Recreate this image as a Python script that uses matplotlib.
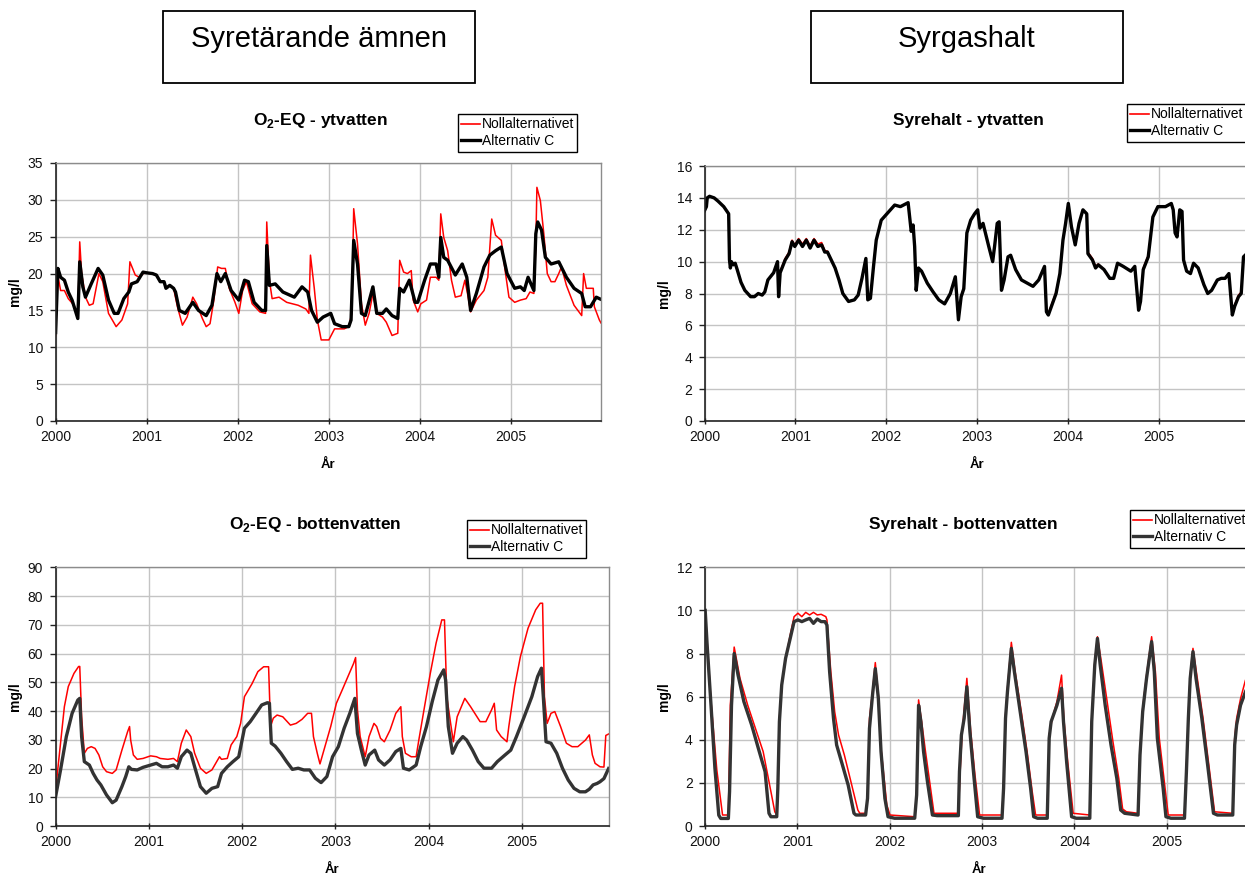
import matplotlib
matplotlib.use("Agg")
import matplotlib.pyplot as plt
from matplotlib.patches import Rectangle
from matplotlib.lines import Line2D

plt.rcParams['font.family'] = ['Liberation Sans', 'DejaVu Sans']
plt.rcParams['mathtext.fontset'] = 'custom'
plt.rcParams['mathtext.rm'] = 'Liberation Sans'
plt.rcParams['mathtext.bf'] = 'Liberation Sans:bold'

W, H = 1245, 875
START_YEAR = 2000
year_ticks = [0, 1, 2, 3, 4, 5]
year_labels = ['2000', '2001', '2002', '2003', '2004', '2005']
series_names = ['Nollalternativet', 'Alternativ C']

# ---- O2-EQ, surface water (years since 2000, mg/l) ----
o2eq_yt_noll_t = [0.000, 0.021, 0.055, 0.097, 0.139, 0.202, 0.244, 0.265, 0.286, 0.328, 0.370, 0.412,
                  0.476, 0.518, 0.581, 0.665, 0.728, 0.791, 0.816, 0.875, 0.918, 0.960, 1.002, 1.065,
                  1.107, 1.149, 1.191, 1.212, 1.254, 1.296, 1.338, 1.393, 1.444, 1.507, 1.549, 1.612,
                  1.654, 1.696, 1.738, 1.780, 1.822, 1.864, 1.907, 1.970, 2.012, 2.054, 2.096, 2.159,
                  2.243, 2.306, 2.319, 2.348, 2.378, 2.454, 2.538, 2.664, 2.748, 2.782, 2.799, 2.841,
                  2.875, 2.917, 3.001, 3.064, 3.169, 3.220, 3.253, 3.274, 3.316, 3.359, 3.401, 3.443,
                  3.485, 3.527, 3.590, 3.632, 3.695, 3.758, 3.779, 3.822, 3.864, 3.906, 3.927, 3.977,
                  4.011, 4.074, 4.116, 4.179, 4.209, 4.230, 4.263, 4.306, 4.348, 4.390, 4.453, 4.495,
                  4.524, 4.558, 4.621, 4.705, 4.747, 4.790, 4.832, 4.895, 4.937, 4.979, 5.042, 5.105,
                  5.168, 5.210, 5.253, 5.274, 5.286, 5.324, 5.362, 5.400, 5.442, 5.484, 5.526, 5.556,
                  5.610, 5.694, 5.778, 5.799, 5.829, 5.905, 5.917, 5.972, 5.990]
o2eq_yt_noll_v = [11.6, 20.0, 17.7, 17.7, 16.6, 15.7, 14.1, 24.3, 20.0, 16.8, 15.7, 15.9,
                  20.0, 18.9, 14.6, 12.8, 13.7, 15.9, 21.6, 19.8, 19.5, 20.0, 20.1, 20.0,
                  19.8, 18.9, 18.9, 18.0, 18.4, 18.0, 15.5, 13.0, 14.1, 16.8, 15.9, 13.9,
                  12.8, 13.2, 16.4, 20.9, 20.7, 20.7, 18.0, 16.1, 14.6, 17.7, 18.9, 15.9,
                  14.8, 14.6, 27.0, 19.1, 16.6, 16.8, 16.1, 15.7, 15.2, 14.6, 22.5, 18.0,
                  13.7, 11.0, 11.0, 12.5, 12.5, 12.8, 14.6, 28.8, 24.0, 15.9, 13.0, 14.6,
                  17.3, 14.6, 14.1, 13.4, 11.6, 11.9, 21.8, 20.2, 20.0, 20.4, 16.4, 14.8,
                  15.9, 16.4, 19.5, 19.5, 19.1, 28.1, 24.9, 23.1, 19.1, 16.8, 17.0, 19.1,
                  17.3, 14.8, 16.4, 17.7, 19.5, 27.4, 25.2, 24.5, 20.4, 16.8, 16.1, 16.4,
                  16.6, 17.5, 17.3, 24.0, 31.7, 29.9, 25.4, 20.0, 18.9, 18.9, 20.0, 20.9,
                  18.4, 15.7, 14.3, 20.0, 18.0, 18.0, 15.5, 13.7, 13.3]

o2eq_yt_c_t = [0.000, 0.025, 0.055, 0.097, 0.139, 0.181, 0.244, 0.265, 0.299, 0.328, 0.391, 0.467,
               0.518, 0.581, 0.644, 0.686, 0.749, 0.804, 0.833, 0.896, 0.960, 1.002, 1.065, 1.107,
               1.149, 1.191, 1.212, 1.254, 1.296, 1.317, 1.359, 1.423, 1.507, 1.570, 1.654, 1.717,
               1.772, 1.814, 1.864, 1.928, 2.012, 2.075, 2.117, 2.180, 2.264, 2.306, 2.319, 2.348,
               2.412, 2.496, 2.622, 2.706, 2.769, 2.811, 2.875, 2.938, 3.022, 3.064, 3.148, 3.220,
               3.245, 3.274, 3.316, 3.359, 3.401, 3.485, 3.527, 3.590, 3.632, 3.695, 3.758, 3.779,
               3.822, 3.885, 3.948, 3.977, 4.053, 4.116, 4.179, 4.209, 4.230, 4.263, 4.306, 4.390,
               4.466, 4.516, 4.558, 4.621, 4.705, 4.769, 4.832, 4.895, 4.958, 5.042, 5.105, 5.147,
               5.189, 5.253, 5.274, 5.295, 5.337, 5.379, 5.442, 5.526, 5.610, 5.694, 5.778, 5.816,
               5.875, 5.938, 5.972, 5.990]
o2eq_yt_c_v = [12.0, 20.7, 19.5, 19.1, 17.5, 16.4, 13.9, 21.6, 18.2, 16.8, 18.6, 20.7,
               19.8, 16.4, 14.6, 14.6, 16.6, 17.5, 18.6, 18.9, 20.2, 20.1, 20.0, 19.8,
               18.9, 18.9, 18.0, 18.4, 18.0, 17.5, 15.0, 14.6, 16.1, 15.0, 14.3, 15.7,
               20.0, 18.9, 20.0, 17.7, 16.4, 19.1, 18.9, 16.1, 15.0, 15.0, 23.8, 18.4,
               18.6, 17.5, 16.8, 18.2, 17.5, 15.0, 13.4, 14.1, 14.6, 13.2, 12.8, 12.8,
               13.7, 24.5, 21.3, 14.6, 14.3, 18.2, 14.6, 14.6, 15.2, 14.3, 13.9, 18.0,
               17.5, 19.1, 16.1, 16.1, 19.1, 21.3, 21.3, 19.5, 24.9, 22.2, 21.8, 19.8,
               21.3, 19.5, 15.0, 17.3, 20.9, 22.5, 23.1, 23.6, 20.0, 18.0, 18.2, 17.7,
               19.5, 17.7, 25.4, 27.0, 25.9, 22.2, 21.3, 21.6, 19.5, 18.0, 17.3, 15.5,
               15.5, 16.8, 16.6, 16.5]

# ---- Oxygen, surface water ----
syre_yt_t = [0.000, 0.021, 0.030, 0.055, 0.106, 0.148, 0.212, 0.254, 0.266, 0.275, 0.285, 0.296,
             0.317, 0.338, 0.360, 0.402, 0.444, 0.508, 0.550, 0.592, 0.635, 0.664, 0.698, 0.761,
             0.804, 0.816, 0.833, 0.888, 0.931, 0.964, 0.994, 1.036, 1.079, 1.121, 1.163, 1.206,
             1.248, 1.290, 1.324, 1.354, 1.396, 1.438, 1.481, 1.523, 1.586, 1.650, 1.692, 1.734,
             1.777, 1.798, 1.827, 1.861, 1.891, 1.946, 2.009, 2.094, 2.157, 2.242, 2.276, 2.297,
             2.314, 2.331, 2.356, 2.390, 2.453, 2.517, 2.580, 2.644, 2.707, 2.762, 2.796, 2.826,
             2.855, 2.889, 2.931, 2.974, 3.008, 3.033, 3.067, 3.130, 3.173, 3.194, 3.223, 3.244,
             3.270, 3.299, 3.342, 3.371, 3.426, 3.490, 3.553, 3.617, 3.680, 3.744, 3.765, 3.786,
             3.871, 3.913, 3.947, 3.976, 4.006, 4.040, 4.082, 4.124, 4.167, 4.209, 4.222, 4.272,
             4.306, 4.336, 4.399, 4.463, 4.505, 4.548, 4.611, 4.695, 4.738, 4.780, 4.801, 4.831,
             4.886, 4.937, 4.992, 5.076, 5.140, 5.161, 5.182, 5.203, 5.233, 5.258, 5.275, 5.309,
             5.351, 5.385, 5.436, 5.499, 5.541, 5.584, 5.647, 5.690, 5.732, 5.774, 5.812, 5.838,
             5.880, 5.910, 5.935, 5.990]
syre_yt_c_v = [13.2, 13.45, 14.0, 14.1, 14.0, 13.8, 13.45, 13.1, 13.0, 10.1, 9.6, 10.0,
               9.8, 9.9, 9.5, 8.7, 8.2, 7.8, 7.8, 8.0, 7.9, 8.1, 8.85, 9.3,
               10.0, 7.8, 9.3, 10.1, 10.5, 11.25, 10.95, 11.35, 10.95, 11.35, 10.85, 11.35,
               10.95, 11.05, 10.6, 10.6, 10.1, 9.6, 8.85, 8.0, 7.5, 7.6, 7.9, 8.95,
               10.2, 7.6, 7.7, 9.7, 11.35, 12.6, 13.0, 13.55, 13.45, 13.7, 11.9, 12.3,
               10.95, 8.2, 9.6, 9.4, 8.65, 8.1, 7.6, 7.35, 8.0, 9.05, 6.35, 7.8,
               8.3, 11.8, 12.6, 13.0, 13.25, 12.1, 12.4, 10.95, 10.0, 10.95, 12.4, 12.5,
               8.2, 8.85, 10.3, 10.4, 9.5, 8.85, 8.65, 8.45, 8.85, 9.7, 6.85, 6.65,
               8.0, 9.25, 11.35, 12.4, 13.65, 12.2, 11.05, 12.4, 13.25, 13.0, 10.5, 10.1,
               9.6, 9.8, 9.5, 8.95, 8.95, 9.9, 9.7, 9.4, 9.7, 6.95, 7.5, 9.5,
               10.3, 12.8, 13.45, 13.45, 13.65, 13.25, 11.8, 11.55, 13.25, 13.15, 10.1, 9.4,
               9.25, 9.9, 9.6, 8.55, 8.0, 8.2, 8.85, 8.95, 8.95, 9.25, 6.65, 7.2,
               7.8, 8.0, 10.3, 10.6]
syre_yt_noll_v = [13.2, 13.45, 14.0, 14.1, 14.0, 13.8, 13.45, 13.1, 13.0, 10.1, 9.6, 10.0,
                  9.8, 9.9, 9.5, 8.7, 8.2, 7.8, 7.8, 8.0, 7.9, 8.1, 8.85, 9.3,
                  10.0, 7.8, 9.4, 10.2, 10.6, 11.35, 11.05, 11.45, 11.1, 11.45, 11.0, 11.45,
                  11.1, 11.2, 10.7, 10.65, 10.1, 9.6, 8.85, 8.0, 7.5, 7.6, 7.9, 8.95,
                  10.2, 7.6, 7.7, 9.7, 11.35, 12.6, 13.0, 13.55, 13.45, 13.7, 11.9, 12.3,
                  10.95, 8.2, 9.6, 9.4, 8.65, 8.1, 7.6, 7.35, 8.0, 9.05, 6.35, 7.85,
                  8.4, 11.8, 12.6, 13.0, 13.25, 12.1, 12.4, 10.95, 10.0, 10.95, 12.4, 12.5,
                  8.3, 8.9, 10.3, 10.4, 9.5, 8.85, 8.65, 8.45, 8.85, 9.7, 6.9, 6.75,
                  8.1, 9.3, 11.35, 12.4, 13.65, 12.2, 11.05, 12.4, 13.25, 13.0, 10.6, 10.2,
                  9.7, 9.85, 9.5, 8.95, 8.95, 9.9, 9.7, 9.4, 9.7, 7.0, 7.6, 9.6,
                  10.4, 12.8, 13.45, 13.45, 13.65, 13.25, 11.8, 11.55, 13.25, 13.15, 10.1, 9.4,
                  9.25, 9.9, 9.6, 8.55, 8.0, 8.2, 8.85, 8.95, 8.95, 9.25, 6.7, 7.3,
                  7.9, 8.1, 10.3, 10.6]

# ---- O2-EQ, bottom water ----
o2eq_bv_noll_t = [0.000, 0.053, 0.094, 0.136, 0.197, 0.247, 0.259, 0.279, 0.308, 0.341, 0.382, 0.423,
                  0.464, 0.505, 0.546, 0.608, 0.649, 0.711, 0.772, 0.793, 0.805, 0.834, 0.875, 0.937,
                  1.019, 1.081, 1.122, 1.204, 1.265, 1.306, 1.348, 1.401, 1.450, 1.491, 1.553, 1.615,
                  1.676, 1.738, 1.758, 1.779, 1.841, 1.882, 1.943, 1.984, 2.025, 2.067, 2.108, 2.169,
                  2.231, 2.284, 2.305, 2.334, 2.375, 2.436, 2.518, 2.580, 2.642, 2.703, 2.744, 2.765,
                  2.806, 2.835, 2.888, 2.950, 3.011, 3.073, 3.135, 3.196, 3.217, 3.237, 3.266, 3.320,
                  3.361, 3.414, 3.443, 3.484, 3.525, 3.587, 3.648, 3.702, 3.718, 3.751, 3.813, 3.866,
                  3.895, 3.956, 4.018, 4.080, 4.141, 4.170, 4.195, 4.236, 4.265, 4.306, 4.388, 4.450,
                  4.552, 4.614, 4.675, 4.704, 4.729, 4.778, 4.840, 4.860, 4.922, 4.984, 5.066, 5.148,
                  5.197, 5.222, 5.242, 5.271, 5.312, 5.353, 5.415, 5.477, 5.538, 5.600, 5.682, 5.723,
                  5.756, 5.785, 5.838, 5.880, 5.900, 5.930]
o2eq_bv_noll_v = [12.5, 28.8, 41.5, 48.5, 53.1, 55.5, 55.5, 38.0, 25.3, 27.0, 27.6, 27.0,
                  24.7, 20.6, 18.9, 18.3, 19.5, 26.4, 32.8, 34.6, 29.9, 24.7, 23.2, 23.5,
                  24.4, 24.1, 23.5, 23.2, 23.5, 22.4, 28.8, 33.4, 31.1, 25.3, 20.1, 18.3,
                  19.5, 23.0, 24.1, 23.2, 23.5, 28.2, 31.1, 35.7, 45.0, 47.3, 49.6, 53.7,
                  55.4, 55.4, 34.6, 37.5, 38.6, 38.0, 35.1, 35.7, 37.1, 39.2, 39.2, 31.1,
                  25.3, 21.6, 27.6, 34.6, 42.7, 47.3, 52.0, 56.6, 58.6, 40.4, 31.1, 24.1,
                  31.1, 35.7, 34.6, 30.5, 29.3, 33.4, 39.2, 41.5, 31.1, 25.3, 24.1, 24.1,
                  29.9, 41.5, 53.1, 63.6, 71.7, 71.7, 45.0, 35.7, 29.3, 38.0, 44.4, 41.5,
                  36.3, 36.3, 40.4, 42.7, 33.4, 31.1, 29.3, 34.6, 48.5, 58.9, 68.8, 75.2,
                  77.5, 77.5, 45.0, 35.7, 39.2, 39.8, 34.6, 28.8, 27.6, 27.6, 29.9, 31.7,
                  24.7, 21.8, 20.6, 20.5, 31.5, 32.0]

o2eq_bv_c_t = [0.000, 0.053, 0.115, 0.177, 0.238, 0.259, 0.279, 0.308, 0.362, 0.403, 0.444, 0.485,
               0.546, 0.608, 0.649, 0.711, 0.752, 0.785, 0.813, 0.875, 0.937, 1.019, 1.081, 1.142,
               1.204, 1.265, 1.306, 1.348, 1.409, 1.450, 1.491, 1.553, 1.615, 1.676, 1.738, 1.779,
               1.841, 1.902, 1.964, 2.025, 2.087, 2.149, 2.210, 2.272, 2.293, 2.313, 2.354, 2.416,
               2.477, 2.539, 2.601, 2.662, 2.724, 2.786, 2.847, 2.909, 2.970, 3.032, 3.094, 3.155,
               3.209, 3.237, 3.279, 3.320, 3.361, 3.422, 3.463, 3.525, 3.587, 3.648, 3.702, 3.730,
               3.792, 3.866, 3.915, 3.977, 4.039, 4.100, 4.162, 4.182, 4.211, 4.256, 4.306, 4.367,
               4.408, 4.470, 4.532, 4.593, 4.675, 4.737, 4.819, 4.881, 4.942, 5.025, 5.107, 5.169,
               5.210, 5.230, 5.259, 5.312, 5.374, 5.435, 5.497, 5.559, 5.621, 5.682, 5.723, 5.764,
               5.806, 5.838, 5.880, 5.930]
o2eq_bv_c_v = [10.2, 19.5, 31.1, 39.2, 43.8, 44.4, 31.1, 22.4, 21.2, 18.3, 16.0, 14.3,
               10.8, 8.1, 9.0, 13.7, 17.2, 20.6, 19.7, 19.5, 20.4, 21.2, 21.8, 20.6,
               20.6, 21.2, 20.1, 24.1, 26.4, 25.3, 20.6, 13.7, 11.4, 13.1, 13.7, 18.3,
               20.6, 22.4, 24.1, 34.0, 36.3, 39.2, 42.1, 42.9, 42.7, 28.8, 27.8, 25.3,
               22.4, 19.7, 20.1, 19.5, 19.5, 16.6, 15.1, 17.2, 24.1, 27.6, 34.0, 39.2,
               44.4, 32.2, 26.4, 21.2, 24.7, 26.4, 23.0, 21.2, 23.0, 25.9, 27.0, 20.1,
               19.5, 21.2, 27.6, 34.6, 43.3, 50.8, 54.3, 50.8, 34.6, 25.3, 28.8, 31.1,
               29.9, 26.4, 22.4, 20.1, 20.1, 22.4, 24.7, 26.4, 31.1, 38.0, 45.0, 52.0,
               54.9, 45.0, 29.3, 28.8, 25.3, 20.1, 16.0, 13.1, 11.9, 11.9, 12.8, 14.3,
               14.8, 15.4, 16.5, 20.0]

# ---- Oxygen, bottom water ----
syre_bv_noll_t = [0.000, 0.021, 0.063, 0.126, 0.188, 0.251, 0.272, 0.314, 0.377, 0.461, 0.544, 0.628,
                  0.691, 0.754, 0.775, 0.787, 0.804, 0.838, 0.879, 0.921, 0.963, 1.005, 1.047, 1.089,
                  1.131, 1.173, 1.214, 1.256, 1.307, 1.319, 1.361, 1.403, 1.445, 1.508, 1.570, 1.654,
                  1.675, 1.738, 1.759, 1.780, 1.813, 1.843, 1.876, 1.905, 1.968, 2.002, 2.270, 2.291,
                  2.312, 2.345, 2.387, 2.437, 2.479, 2.743, 2.764, 2.785, 2.835, 2.877, 2.923, 2.973,
                  3.216, 3.233, 3.254, 3.275, 3.317, 3.358, 3.425, 3.488, 3.543, 3.580, 3.706, 3.727,
                  3.760, 3.811, 3.861, 3.886, 3.928, 3.987, 4.167, 4.188, 4.221, 4.250, 4.292, 4.355,
                  4.418, 4.481, 4.523, 4.564, 4.690, 4.711, 4.740, 4.782, 4.837, 4.878, 4.920, 4.983,
                  5.017, 5.193, 5.214, 5.235, 5.255, 5.285, 5.327, 5.394, 5.457, 5.519, 5.716, 5.737,
                  5.758, 5.800, 5.854, 5.930]
syre_bv_noll_v = [10.0, 8.55, 5.77, 2.6, 0.51, 0.51, 5.6, 8.3, 6.85, 5.6, 4.53, 3.45,
                  2.06, 0.66, 0.51, 1.75, 5.0, 6.85, 7.93, 8.86, 9.71, 9.87, 9.71, 9.91,
                  9.79, 9.91, 9.79, 9.82, 9.71, 9.56, 7.16, 5.3, 4.22, 3.29, 2.21, 0.74,
                  0.59, 0.59, 1.28, 4.99, 6.23, 7.58, 6.08, 3.6, 0.97, 0.51, 0.43, 1.6,
                  5.85, 4.84, 3.45, 1.9, 0.59, 0.59, 2.68, 4.38, 6.85, 4.38, 2.37, 0.51,
                  0.51, 1.9, 5.15, 6.39, 8.52, 7.16, 5.3, 3.45, 1.6, 0.51, 0.51, 4.22,
                  4.99, 5.77, 7.0, 4.99, 2.98, 0.59, 0.51, 4.99, 7.62, 8.78, 7.62, 5.77,
                  3.91, 2.21, 0.79, 0.66, 0.59, 3.45, 5.45, 7.0, 8.78, 7.16, 4.07, 1.75,
                  0.51, 0.51, 2.68, 5.15, 7.0, 8.24, 7.0, 5.0, 2.83, 0.66, 0.59, 4.07,
                  4.99, 5.9, 6.77, 7.2]

syre_bv_c_t = [0.000, 0.021, 0.063, 0.105, 0.147, 0.168, 0.251, 0.264, 0.285, 0.314, 0.356, 0.419,
               0.503, 0.586, 0.649, 0.691, 0.712, 0.775, 0.787, 0.804, 0.829, 0.871, 0.921, 0.963,
               1.005, 1.047, 1.089, 1.131, 1.173, 1.214, 1.256, 1.298, 1.319, 1.348, 1.390, 1.424,
               1.487, 1.549, 1.612, 1.633, 1.738, 1.759, 1.780, 1.813, 1.843, 1.876, 1.905, 1.947,
               1.981, 2.052, 2.270, 2.291, 2.312, 2.337, 2.366, 2.408, 2.462, 2.513, 2.743, 2.755,
               2.776, 2.806, 2.835, 2.868, 2.910, 2.952, 3.015, 3.216, 3.233, 3.254, 3.275, 3.317,
               3.350, 3.413, 3.476, 3.526, 3.559, 3.601, 3.706, 3.727, 3.748, 3.811, 3.861, 3.882,
               3.916, 3.970, 4.020, 4.167, 4.188, 4.221, 4.250, 4.280, 4.334, 4.397, 4.460, 4.502,
               4.544, 4.690, 4.711, 4.740, 4.782, 4.837, 4.866, 4.899, 4.962, 4.992, 5.046, 5.193,
               5.214, 5.235, 5.255, 5.285, 5.318, 5.381, 5.444, 5.507, 5.549, 5.716, 5.737, 5.758,
               5.800, 5.854, 5.930]
syre_bv_c_v = [10.0, 8.4, 5.6, 2.7, 0.5, 0.35, 0.35, 1.6, 5.6, 8.0, 7.0, 5.77,
               4.69, 3.45, 2.52, 0.59, 0.43, 0.43, 1.75, 4.84, 6.54, 7.78, 8.7, 9.48,
               9.56, 9.48, 9.56, 9.63, 9.4, 9.6, 9.48, 9.48, 9.32, 7.16, 5.0, 3.76,
               2.83, 1.9, 0.59, 0.51, 0.51, 1.28, 4.53, 6.08, 7.3, 5.92, 3.45, 1.28,
               0.43, 0.36, 0.36, 1.44, 5.6, 4.84, 3.45, 2.06, 0.51, 0.48, 0.48, 2.52,
               4.22, 5.0, 6.46, 4.38, 2.37, 0.43, 0.36, 0.36, 1.75, 5.0, 6.23, 8.24,
               7.16, 5.3, 3.45, 1.75, 0.43, 0.36, 0.36, 4.07, 4.84, 5.6, 6.39, 4.84,
               2.98, 0.43, 0.36, 0.36, 4.84, 7.47, 8.7, 7.47, 5.6, 3.76, 2.21, 0.74,
               0.59, 0.51, 3.29, 5.3, 6.85, 8.55, 7.16, 4.07, 1.75, 0.43, 0.36, 0.36,
               2.52, 5.0, 6.85, 8.09, 6.85, 5.0, 2.83, 0.59, 0.51, 0.51, 3.76, 4.69,
               5.6, 6.23, 6.9]


def px(x, y):
    """Convert pixel position (from top-left) to figure fraction."""
    return x / W, 1 - y / H


fig = plt.figure(figsize=(W / 100, H / 100), dpi=100)
fig.patch.set_facecolor('white')


def make_axes(left, top, right, bottom, xmax, ymax, ystep, title, title_xy, legend_xy, c_color):
    ax = fig.add_axes([left / W, 1 - bottom / H, (right - left) / W, (bottom - top) / H])
    ax.set_xlim(START_YEAR, START_YEAR + xmax)
    ax.set_ylim(0, ymax)
    ax.set_xticks([START_YEAR + t for t in year_ticks])
    ax.set_xticklabels(year_labels)
    ax.set_yticks(list(range(0, ymax + 1, ystep)))
    ax.grid(True, color='#c4c4c4', linewidth=1.0)
    ax.set_axisbelow(True)
    for s in ('top', 'right'):
        ax.spines[s].set_color('#8c8c8c')
        ax.spines[s].set_linewidth(1.0)
    for s in ('left', 'bottom'):
        ax.spines[s].set_color('#222222')
        ax.spines[s].set_linewidth(1.2)
    ax.tick_params(axis='x', direction='inout', length=5, width=1, color='#222222',
                   labelsize=10, pad=4, labelcolor='#111111')
    ax.tick_params(axis='y', direction='out', length=4, width=1, color='#222222',
                   labelsize=10, pad=5, labelcolor='#111111')
    ax.set_ylabel('mg/l', fontsize=10, fontweight='bold')
    ax.yaxis.set_label_coords(-34 / (right - left), 0.5)
    ax.set_xlabel('År', fontsize=9.5, fontweight='bold')
    ax.xaxis.set_label_coords(0.5, -38 / (bottom - top))
    fig.text(*px(*title_xy), title, fontsize=12.5, fontweight='bold', ha='center', va='center')
    handles = [Line2D([], [], color='#ff0000', lw=1.2),
               Line2D([], [], color=c_color, lw=2.4)]
    leg = fig.legend(handles, series_names, loc='upper left', bbox_to_anchor=px(*legend_xy),
                     bbox_transform=fig.transFigure, fontsize=10, frameon=True, fancybox=False,
                     edgecolor='black', framealpha=1, borderpad=0.25, labelspacing=0.2,
                     handlelength=1.3, handletextpad=0.15, borderaxespad=0)
    leg.get_frame().set_linewidth(1.0)
    return ax


def years(ts):
    return [START_YEAR + t for t in ts]


ax1 = make_axes(55.6, 163, 601, 421, 5.99, 35, 5, r'O$_{\mathbf{2}}$-EQ - ytvatten',
                (320, 121), (458, 114), 'black')
ax1.plot(years(o2eq_yt_noll_t), o2eq_yt_noll_v, color='#ff0000', lw=1.1)
ax1.plot(years(o2eq_yt_c_t), o2eq_yt_c_v, color='black', lw=2.4)

ax2 = make_axes(704.5, 166, 1248.5, 421, 5.99, 16, 2, 'Syrehalt - ytvatten',
                (968, 121), (1127, 104), 'black')
ax2.plot(years(syre_yt_t), syre_yt_noll_v, color='#ff0000', lw=1.1)
ax2.plot(years(syre_yt_t), syre_yt_c_v, color='black', lw=2.4)

ax3 = make_axes(55.6, 567.3, 608.6, 826, 5.93, 90, 10, r'O$_{\mathbf{2}}$-EQ - bottenvatten',
                (315, 524.5), (467, 520), '#333333')
ax3.plot(years(o2eq_bv_noll_t), o2eq_bv_noll_v, color='#ff0000', lw=1.1)
ax3.plot(years(o2eq_bv_c_t), o2eq_bv_c_v, color='#333333', lw=2.4)

ax4 = make_axes(705.2, 567.3, 1252.5, 826, 5.93, 12, 2, 'Syrehalt - bottenvatten',
                (963, 524), (1130, 510), '#333333')
ax4.plot(years(syre_bv_noll_t), syre_bv_noll_v, color='#ff0000', lw=1.1)
ax4.plot(years(syre_bv_c_t), syre_bv_c_v, color='#333333', lw=2.4)

# Section headings in framed boxes
for (x0, x1, label) in [(163, 475, 'Syretärande ämnen'), (811, 1123, 'Syrgashalt')]:
    fx0, fy0 = px(x0, 83)
    fx1, fy1 = px(x1, 10.5)
    fig.patches.append(Rectangle((fx0, fy0), fx1 - fx0, fy1 - fy0, transform=fig.transFigure,
                                 facecolor='white', edgecolor='black', linewidth=1.3))
    fig.text(*px((x0 + x1) / 2, 39), label, fontsize=21, ha='center', va='center')

fig.savefig('out.png', dpi=100)
